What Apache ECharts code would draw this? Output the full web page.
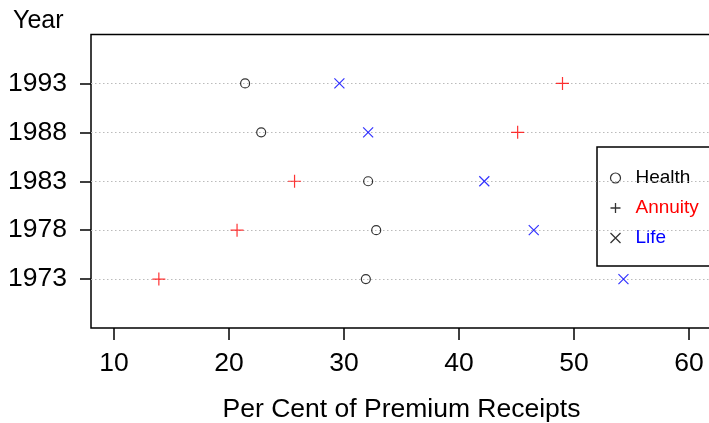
<!DOCTYPE html>
<html>
<head>
<meta charset="utf-8">
<script src="https://cdn.jsdelivr.net/npm/echarts@6/dist/echarts.min.js"></script>
<style>
  html, body { margin: 0; padding: 0; background: #fff; }
  #chart { width: 709px; height: 423px; }
</style>
</head>
<body>
<div id="chart"></div>
<script>
// rows from bottom to top
var years = ['1973', '1978', '1983', '1988', '1993'];
var health = [31.9, 32.8, 32.1, 22.8, 21.4];
var annuity = [13.9, 20.7, 25.7, 45.1, 49.0];
var life = [54.3, 46.5, 42.2, 32.1, 29.6];
var xTicks = [10, 20, 30, 40, 50, 60];

var FONT = 'Liberation Sans, Arial, sans-serif';
var PLUS = 'path://M0,6L12,6M6,0L6,12';
var CROSS = 'path://M0,0L10,10M10,0L0,10';

function pts(vals) {
  return vals.map(function (v, i) { return [v, i + 1]; });
}
var rows = years.map(function (y, i) { return i + 1; });

var chart = echarts.init(document.getElementById('chart'));
var option = {
  animation: false,
  title: {
    text: 'Year',
    left: 13, top: 9, padding: 0,
    textStyle: { fontFamily: FONT, fontSize: 25, fontWeight: 'normal', color: '#000' }
  },
  grid: {
    left: 91, top: 34.5, width: 621, height: 293.5,
    outerBoundsMode: 'none', containLabel: false,
    show: true, borderColor: '#000', borderWidth: 1.5, backgroundColor: 'transparent'
  },
  xAxis: {
    type: 'value', min: 8, max: 62,
    name: 'Per Cent of Premium Receipts',
    nameLocation: 'middle', nameGap: 68,
    nameTextStyle: { fontFamily: FONT, fontSize: 26.5, color: '#000' },
    axisLine: { show: false },
    axisTick: { show: true, length: 12, customValues: xTicks, lineStyle: { color: '#000', width: 1.5 } },
    axisLabel: { customValues: xTicks, margin: 22, fontFamily: FONT, fontSize: 26.5, color: '#000' },
    splitLine: { show: false }
  },
  yAxis: {
    type: 'value', min: 0, max: 6,
    axisLine: { show: false },
    axisTick: { show: true, length: 11, customValues: rows, lineStyle: { color: '#000', width: 1.5 } },
    axisLabel: {
      customValues: rows, margin: 24, fontFamily: FONT, fontSize: 26.5, color: '#000',
      formatter: function (v) { return years[v - 1]; }
    },
    splitLine: { show: false }
  },
  legend: {
    orient: 'vertical',
    left: 597, top: 147,
    padding: [21, 100, 18, 11],
    itemWidth: 30, itemHeight: 10, itemGap: 10,
    borderColor: '#000', borderWidth: 1.5,
    backgroundColor: '#fff',
    textStyle: { fontFamily: FONT, fontSize: 19, lineHeight: 20 },
    data: [
      { name: 'Health', icon: 'circle', itemStyle: { color: 'none', borderColor: '#000', borderWidth: 1.2 }, textStyle: { color: '#000' } },
      { name: 'Annuity', icon: PLUS, itemStyle: { color: 'none', borderColor: '#000', borderWidth: 1.3 }, textStyle: { color: '#ff0000' } },
      { name: 'Life', icon: CROSS, itemStyle: { color: 'none', borderColor: '#000', borderWidth: 1.3 }, textStyle: { color: '#0000ff' } }
    ]
  },
  series: [
    {
      name: 'rows', type: 'line', data: [], z: 1, silent: true,
      markLine: {
        silent: true, symbol: 'none', label: { show: false },
        lineStyle: { color: '#bbbbbb', type: [1.5, 2.5], width: 1 },
        data: rows.map(function (r) { return { yAxis: r }; })
      }
    },
    {
      name: 'Health', type: 'scatter', data: pts(health),
      symbol: 'circle', symbolSize: 9,
      itemStyle: { color: 'none', borderColor: '#000', borderWidth: 1.2 },
      z: 5
    },
    {
      name: 'Annuity', type: 'scatter', data: pts(annuity),
      symbol: PLUS, symbolSize: 13,
      itemStyle: { color: 'none', borderColor: '#ff0000', borderWidth: 1.2 },
      z: 5
    },
    {
      name: 'Life', type: 'scatter', data: pts(life),
      symbol: CROSS, symbolSize: 10,
      itemStyle: { color: 'none', borderColor: '#0000ff', borderWidth: 1.2 },
      z: 5
    }
  ]
};
chart.setOption(option);
</script>
</body>
</html>
